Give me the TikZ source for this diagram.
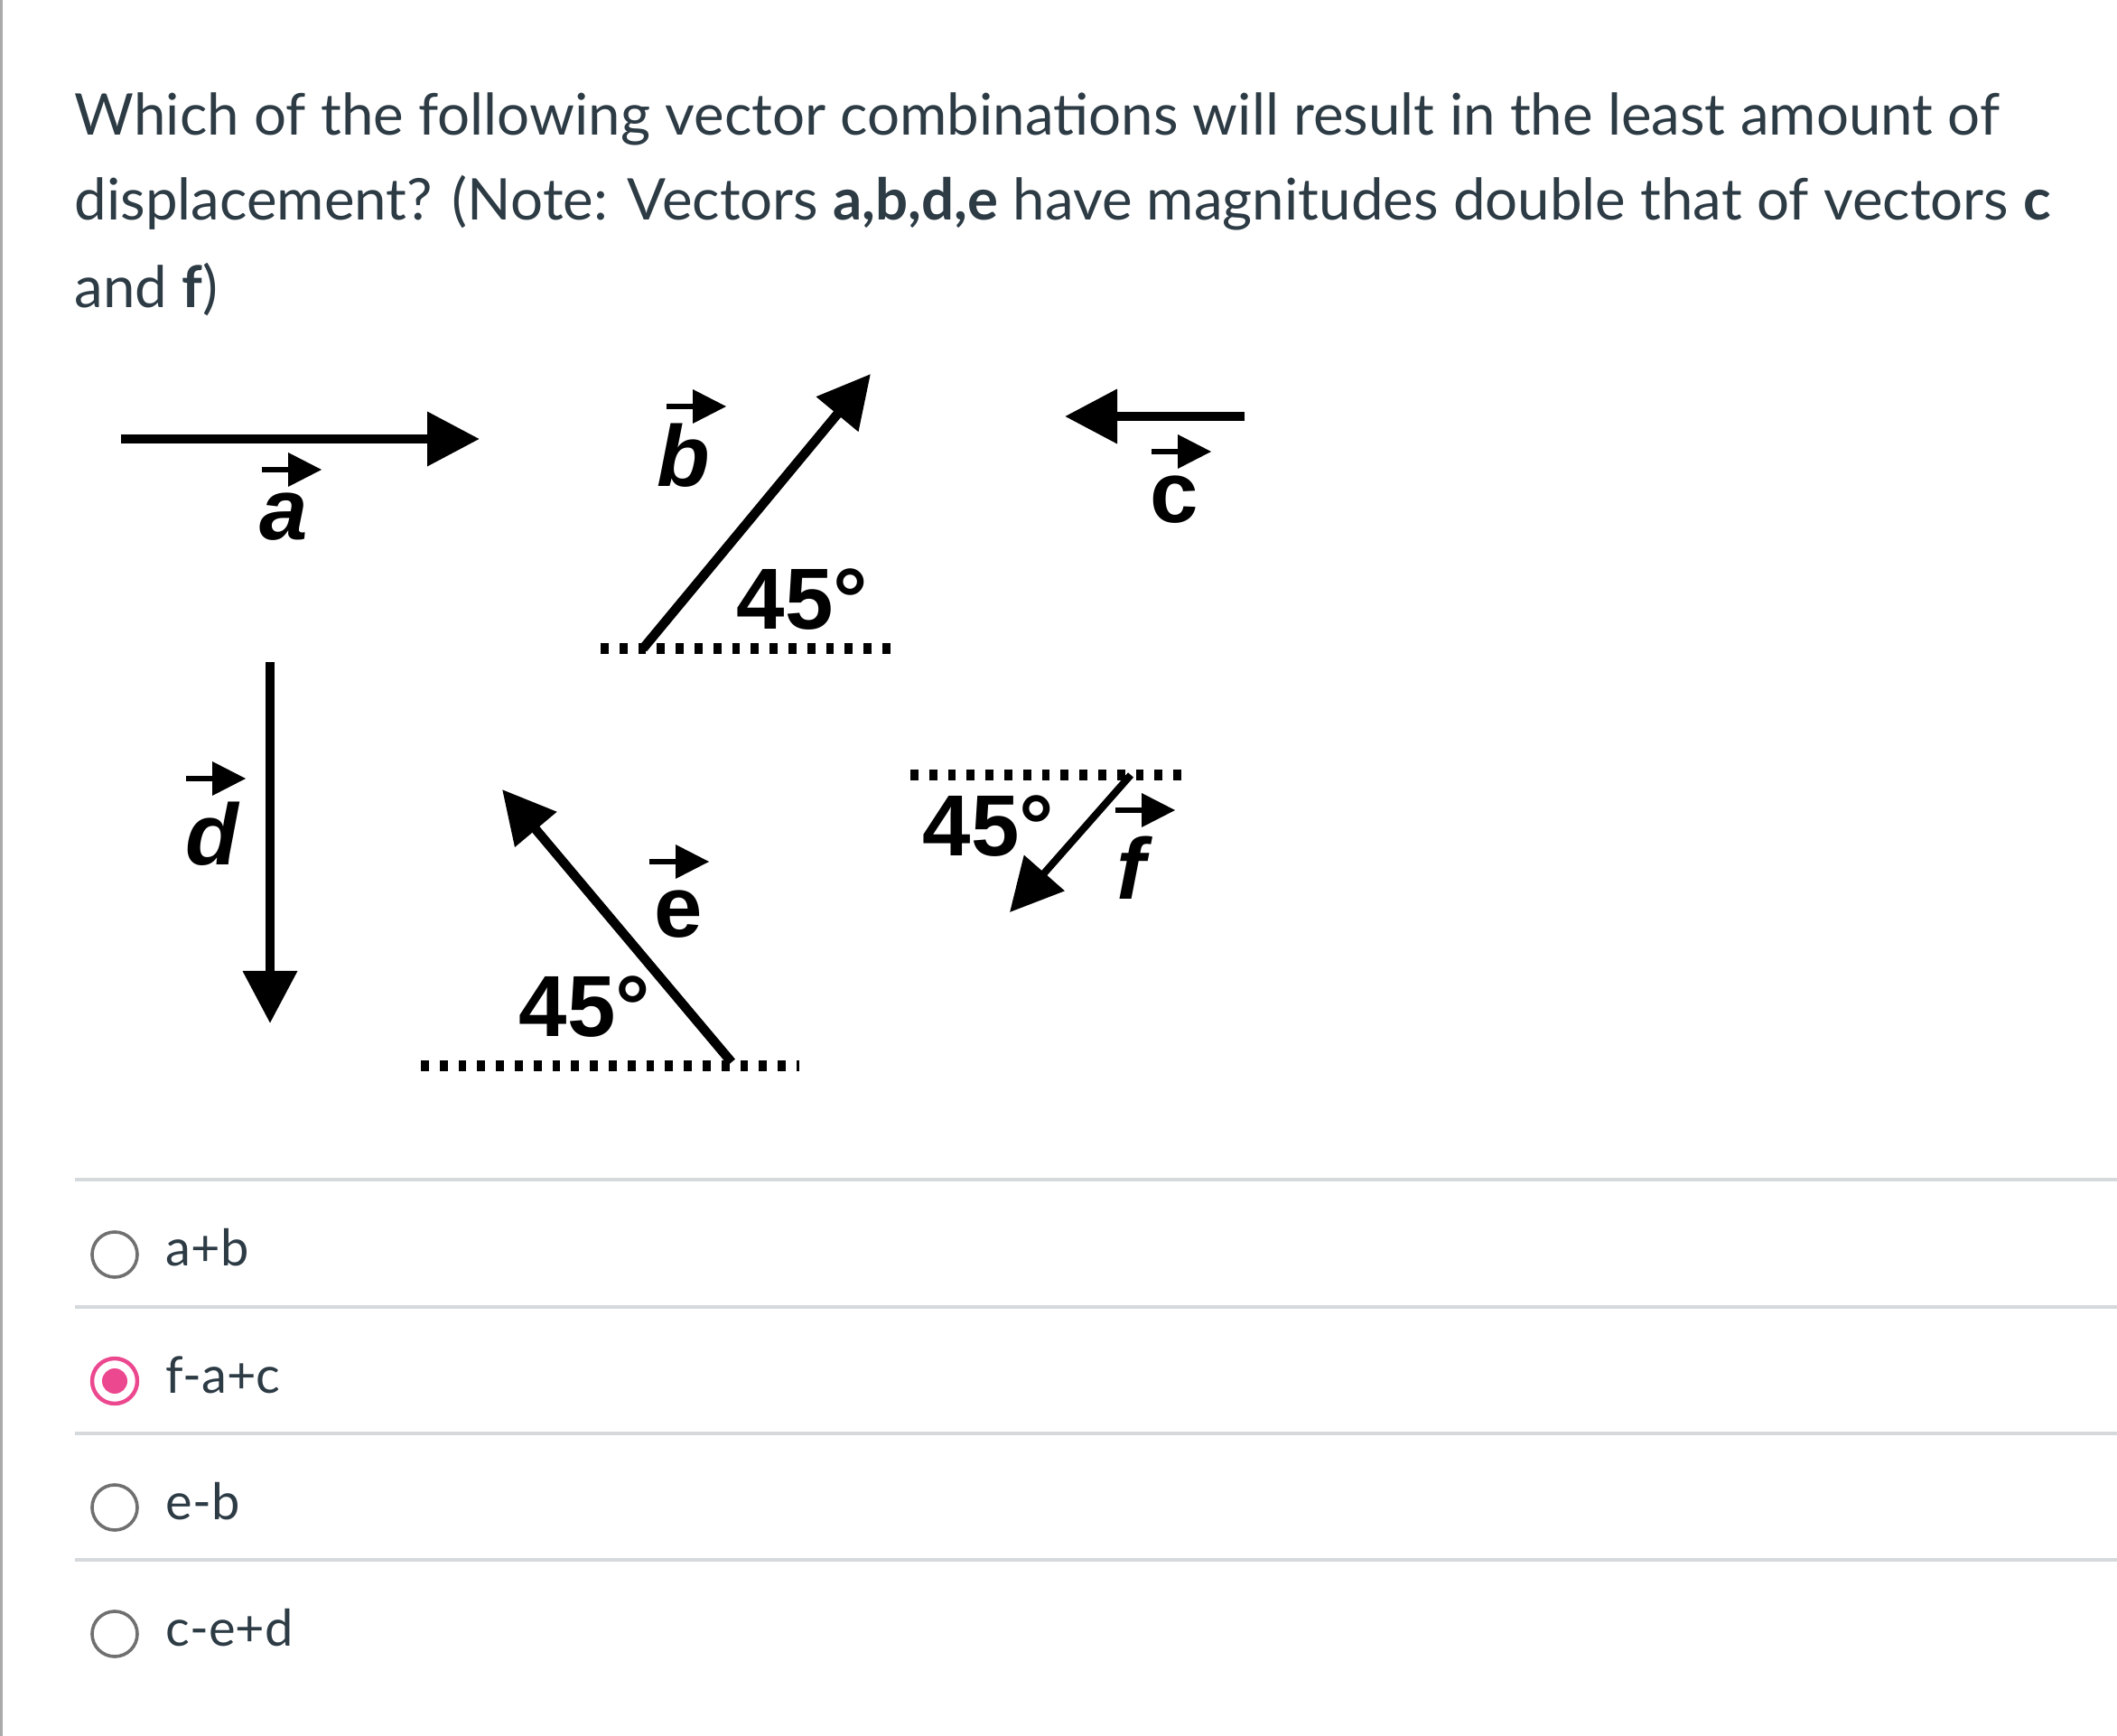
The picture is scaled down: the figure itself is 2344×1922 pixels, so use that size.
\documentclass[tikz,border=0pt]{standalone}
\usepackage{fontspec}
\setmainfont{Lato}
\newfontfamily\figfont{Liberation Sans}
\usetikzlibrary{arrows.meta}

\definecolor{canvastext}{RGB}{45,59,69}
\definecolor{rulegrey}{RGB}{214,217,220}
\definecolor{radiogrey}{RGB}{112,112,112}
\definecolor{radiopink}{RGB}{236,72,143}

\tikzset{
  vec/.style={line width=2.6pt, -{Triangle[length=14.5pt,width=14.5pt]}},
  refdots/.style={line width=2.8pt, dash pattern=on 2.2pt off 3pt},
  figlbl/.style={anchor=base west, inner sep=0pt, font=\figfont\bfseries\itshape\fontsize{24pt}{24pt}\selectfont},
  figdeg/.style={anchor=base west, inner sep=0pt, font=\figfont\bfseries\fontsize{24pt}{24pt}\selectfont},
  qtext/.style={anchor=base west, inner sep=0pt, text=canvastext, font=\fontsize{15.9pt}{24pt}\selectfont},
  opttext/.style={anchor=base west, inner sep=0pt, text=canvastext, font=\fontsize{14pt}{18pt}\selectfont},
  vecsign/.pic={
    \draw [line width=1.6pt] (-33,0) -- (-2,0);
    \fill (-4,-19) -- (33,0) -- (-4,19) -- cycle;
  }
}

\begin{document}
\begin{tikzpicture}[x=0.25pt,y=0.25pt,yscale=-1,xscale=1]
\useasboundingbox (0,0) rectangle (2344,1922);
\fill [white] (0,0) rectangle (2344,1922);

%Left border of the page
\draw [line width=0.8pt, color={rgb, 255:red, 170; green, 170; blue, 170}] (1.5,0) -- (1.5,1922);

% Question text
\node [qtext] (qline1) at (82,150) {Which of the following vector combinations will result in the least amount of};
\node [qtext] (qline2) at (82,244) {displacement? (Note: Vectors \textbf{a,b,d,e} have magnitudes double that of vectors \textbf{c}};
\node [qtext] (qline3) at (82,341) {and \textbf{f})};

%Vector a
\coordinate (aTail) at (134,486);
\coordinate (aTip) at (531,486);
\draw [vec] (aTail) -- (aTip);
\pic at (323,520) {vecsign};
\node [figlbl] (aLbl) at (287,598) {a};

%Vector b
\coordinate (bTail) at (712,718);
\coordinate (bTip) at (964,414);
\draw [refdots] (665,718) -- (987,718);
\draw [vec] (bTail) -- (bTip);
\pic at (771,450) {vecsign};
\node [figlbl] (bLbl) at (727,539) {b};
\node [figdeg] (bAngle) at (815,697) {45°};

%Vector c
\coordinate (cTail) at (1378,461);
\coordinate (cTip) at (1179,461);
\draw [vec] (cTail) -- (cTip);
\pic at (1308,500) {vecsign};
\node [figdeg] (cLbl) at (1273,579) {c};

%Vector d
\coordinate (dTail) at (299,733);
\coordinate (dTip) at (299,1133);
\draw [vec] (dTail) -- (dTip);
\pic at (239,862) {vecsign};
\node [figlbl] (dLbl) at (205,958) {d};

%Vector e
\coordinate (eTail) at (810,1176);
\coordinate (eTip) at (556,874);
\draw [refdots] (466,1180) -- (885,1180);
\draw [vec] (eTail) -- (eTip);
\pic at (752,954) {vecsign};
\node [figdeg] (eLbl) at (724,1038) {e};
\node [figdeg] (eAngle) at (574,1148) {45°};

%Vector f
\coordinate (fTail) at (1252,858);
\coordinate (fTip) at (1118,1010);
\draw [refdots] (1008,858) -- (1310,858);
\draw [vec, line width=2pt] (fTail) -- (fTip);
\pic at (1268,897) {vecsign};
\node [figlbl] (fLbl) at (1236,996) {f};
\node [figdeg] (fAngle) at (1021,948) {45°};

%Answer separators
\draw [rulegrey, line width=0.8pt] (83,1306) -- (2344,1306);
\draw [rulegrey, line width=0.8pt] (83,1447) -- (2344,1447);
\draw [rulegrey, line width=0.8pt] (83,1587) -- (2344,1587);
\draw [rulegrey, line width=0.8pt] (83,1727) -- (2344,1727);

%Radio buttons
\node [circle, draw=radiogrey, line width=0.9pt, minimum size=12.5pt, inner sep=0pt] (optA) at (127,1389) {};
\node [circle, draw=radiopink, line width=1.1pt, minimum size=12.5pt, inner sep=0pt] (optB) at (127,1529) {};
\fill [radiopink] (optB.center) circle (14);
\node [circle, draw=radiogrey, line width=0.9pt, minimum size=12.5pt, inner sep=0pt] (optC) at (127,1669) {};
\node [circle, draw=radiogrey, line width=0.9pt, minimum size=12.5pt, inner sep=0pt] (optD) at (127,1809) {};

% Answer texts
\node [opttext] (ansA) at (183,1402) {a+b};
\node [opttext] (ansB) at (183,1542) {f-a+c};
\node [opttext] (ansC) at (183,1682) {e-b};
\node [opttext] (ansD) at (183,1822) {c-e+d};

\end{tikzpicture}
\end{document}
